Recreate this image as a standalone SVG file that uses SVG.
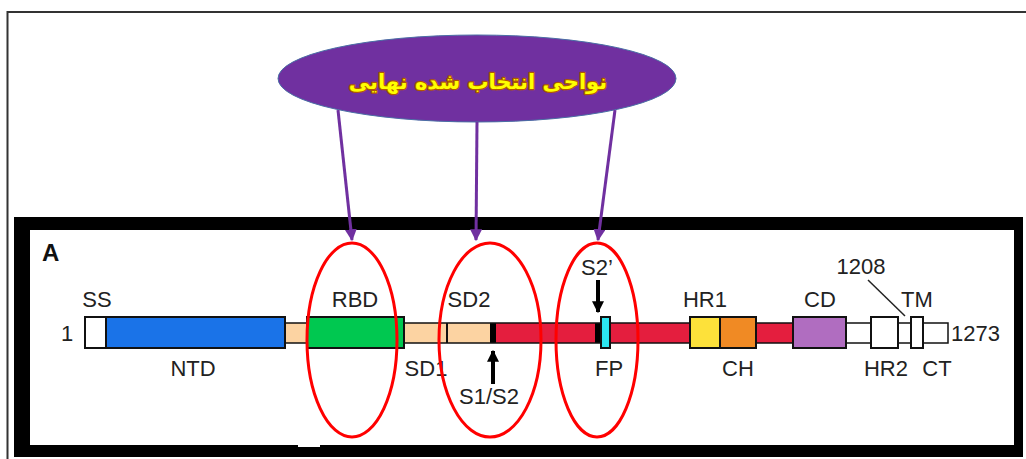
<svg xmlns="http://www.w3.org/2000/svg" width="1026" height="459" viewBox="0 0 1026 459">
<defs>
<style>
.lbl{font-family:"Liberation Sans",Arial,sans-serif;font-size:22px;fill:#222;text-anchor:middle}
.box{stroke:#111;stroke-width:2}
.reg{fill:none;stroke:#ff0000;stroke-width:3}
.pl{stroke:#7030a0;stroke-width:3;fill:none}
.bk{stroke:#000;stroke-width:4;fill:none}
</style>
<marker id="pa" viewBox="0 0 10 10" refX="9" refY="5" markerWidth="4" markerHeight="4" orient="auto" markerUnits="strokeWidth">
<path d="M0,0 L10,5 L0,10 z" fill="#7030a0"/>
</marker>
<marker id="ba" viewBox="0 0 10 10" refX="9" refY="5" markerWidth="3" markerHeight="3" orient="auto" markerUnits="strokeWidth">
<path d="M0,0 L10,5 L0,10 z" fill="#000"/>
</marker>
</defs>
<rect width="1026" height="459" fill="#fff"/>
<!-- outer thin frame -->
<path d="M7.5,459 V12 H1026" fill="none" stroke="#333" stroke-width="2"/>
<!-- black panel frame -->
<g id="panel">
<path d="M14,217 H1023 V457 H14 Z M30,230 V445 H1014 V230 Z" fill="#000" fill-rule="evenodd"/>
<rect x="298" y="444" width="22" height="3" fill="#fff"/>
<text x="42" y="261" style="font-family:'Liberation Sans',Arial,sans-serif;font-size:24px;font-weight:bold;fill:#111">A</text>
</g>
<!-- purple title node -->
<g id="title">
<ellipse cx="477" cy="78.5" rx="199" ry="43.5" fill="#7030a0" stroke="#4a6fa5" stroke-width="1"/>
<text x="478" y="89" direction="rtl" text-anchor="middle" style="font-family:'DejaVu Sans',sans-serif;font-size:21px;font-weight:bold;fill:#ffff00;stroke:#b05a00;stroke-width:2.5;paint-order:stroke;stroke-linejoin:round">نواحی انتخاب شده نهایی</text>
</g>
<!-- protein bar -->
<g id="bar">
<rect x="285" y="323" width="205" height="20" fill="#fcd3a2"/>
<rect x="490" y="323" width="6" height="20" fill="#000"/>
<rect x="496" y="323" width="194" height="20" fill="#e41e3e"/>
<rect x="595" y="323" width="6" height="20" fill="#000"/>
<rect x="756" y="323" width="37" height="20" fill="#e41e3e"/>
<rect x="846" y="323" width="102" height="20" fill="#fff"/>
<rect x="285" y="323" width="663" height="20" fill="none" stroke="#111" stroke-width="1.5"/>
<line x1="447" y1="323" x2="447" y2="343" stroke="#111" stroke-width="2"/>
</g>
<g id="SS"><rect class="box" x="85" y="317" width="21" height="31" fill="#fff"/><text class="lbl" x="97" y="307">SS</text><text class="lbl" x="67" y="341">1</text></g>
<g id="NTD"><rect class="box" x="106" y="317" width="179" height="31" fill="#1a73e8"/><text class="lbl" x="193" y="376">NTD</text></g>
<g id="RBD"><rect class="box" x="307" y="317" width="97" height="31" fill="#00c850"/><text class="lbl" x="355" y="307">RBD</text></g>
<g id="SD1"><text class="lbl" x="426" y="376">SD1</text></g>
<g id="SD2"><text class="lbl" x="469" y="307">SD2</text></g>
<g id="S1S2"><text class="lbl" x="489" y="404">S1/S2</text></g>
<g id="FP"><rect class="box" x="601" y="317" width="9" height="31" fill="#2ce6f0"/><text class="lbl" x="609" y="376">FP</text></g>
<g id="S2p"><text class="lbl" x="597" y="275">S2’</text></g>
<g id="HR1"><rect class="box" x="690" y="317" width="30" height="31" fill="#fde13a"/><text class="lbl" x="705" y="307">HR1</text></g>
<g id="CH"><rect class="box" x="720" y="317" width="36" height="31" fill="#f08a24"/><text class="lbl" x="738" y="376">CH</text></g>
<g id="CD"><rect class="box" x="793" y="317" width="53" height="31" fill="#b06dc0"/><text class="lbl" x="820" y="307">CD</text></g>
<g id="HR2"><rect class="box" x="871" y="317" width="27" height="31" fill="#fff"/><text class="lbl" x="886" y="376">HR2</text></g>
<g id="TM"><rect class="box" x="911" y="317" width="12" height="31" fill="#fff"/><text class="lbl" x="917" y="307">TM</text></g>
<g id="CT"><text class="lbl" x="937" y="376">CT</text></g>
<g id="n1208"><text class="lbl" x="861" y="274">1208</text></g>
<g id="n1273"><text class="lbl" x="951" y="341" style="text-anchor:start">1273</text></g>
<!-- selected regions -->
<g id="regions">
<ellipse class="reg" cx="352" cy="340" rx="45" ry="97"/>
<ellipse class="reg" cx="490" cy="340" rx="51" ry="97"/>
<ellipse class="reg" cx="597" cy="340" rx="41" ry="97"/>
</g>
<!-- connectors -->
<g id="connectors">
<line class="pl" x1="338" y1="110" x2="352" y2="240" marker-end="url(#pa)"/>
<line class="pl" x1="477" y1="122" x2="476" y2="240" marker-end="url(#pa)"/>
<line class="pl" x1="615" y1="110" x2="598" y2="240" marker-end="url(#pa)"/>
<line class="bk" x1="598" y1="280" x2="598" y2="312" marker-end="url(#ba)"/>
<line class="bk" x1="493" y1="384" x2="493" y2="351" marker-end="url(#ba)"/>
<line x1="868" y1="280" x2="905" y2="316" stroke="#222" stroke-width="1.5"/>
</g>
</svg>
